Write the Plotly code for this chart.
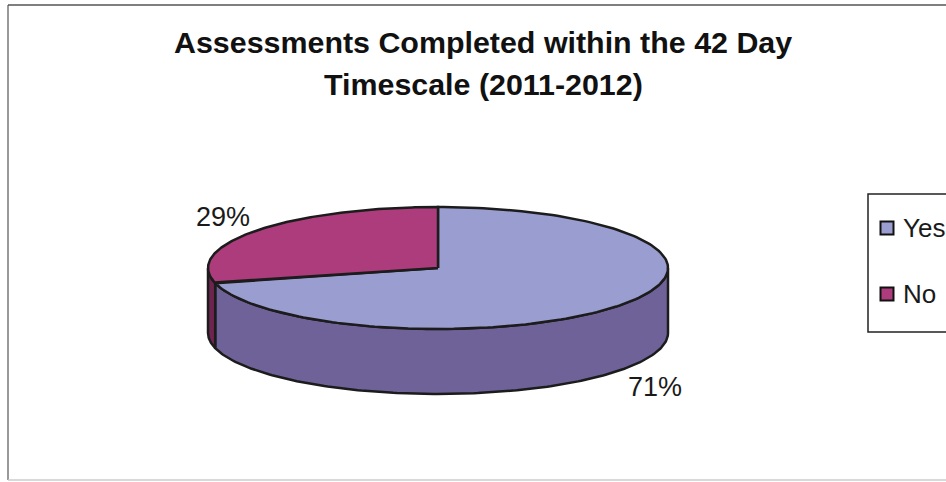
import numpy as np
import plotly.graph_objects as go

categories = ["Yes", "No"]
values = [71, 29]
title_lines = ["Assessments Completed within the 42 Day", "Timescale (2011-2012)"]
top_colors = ["#9A9DD0", "#AC3C7C"]
side_colors = ["#6F6299", "#6E2450"]

W, H = 946, 482
CX, CY, RX, RY, DEPTH = 438, 268, 230, 61, 65
LINE = "#1c1c1c"


def pt(deg):
    a = np.radians(deg)
    return CX + RX * np.sin(a), CY - RY * np.cos(a)


def arc(a0, a1):
    t = np.linspace(a0, a1, 181)
    return pt(t)


total = sum(values)
split = 360 * values[0] / total

fig = go.Figure()


def poly(x, y, color, name):
    fig.add_trace(go.Scatter(x=np.asarray(x), y=np.asarray(y), mode="lines", fill="toself",
                             fillcolor=color, line=dict(color=LINE, width=2.5),
                             showlegend=False, hoverinfo="skip", name=name))


# side wall of "Yes" (right point round to the split)
x, y = arc(90, split)
poly(np.r_[x, x[::-1], x[0]], np.r_[y, (y + DEPTH)[::-1], y[0]], side_colors[0], categories[0])
# side wall of "No" (split round to the left point)
x, y = arc(split, 270)
poly(np.r_[x, x[::-1], x[0]], np.r_[y, (y + DEPTH)[::-1], y[0]], side_colors[1], categories[1])
# top faces
x, y = arc(0, split)
poly(np.r_[CX, x, CX], np.r_[CY, y, CY], top_colors[0], categories[0])
x, y = arc(split, 360)
poly(np.r_[CX, x, CX], np.r_[CY, y, CY], top_colors[1], categories[1])

# legend key drawn inside the plot area, as the reference's is cut by the right edge
LEGEND_Y = [228, 294]
fig.add_trace(go.Scatter(x=[887, 887], y=LEGEND_Y, mode="markers",
                         marker=dict(symbol="square", size=13, color=top_colors,
                                     line=dict(color="#111111", width=2)),
                         showlegend=False, hoverinfo="skip", cliponaxis=False))

legend_labels = [
    dict(x=901, y=ly, xref="x", yref="y", showarrow=False, text=name, xanchor="left",
         font=dict(size=26, color="#1a1a1a"))
    for name, ly in zip(categories, LEGEND_Y)
]

fig.update_layout(
    width=W, height=H, margin=dict(l=0, r=0, t=0, b=0),
    paper_bgcolor="white", plot_bgcolor="white",
    font=dict(family="Liberation Sans", color="#1a1a1a"),
    xaxis=dict(range=[0, W], visible=False, fixedrange=True),
    yaxis=dict(range=[H, 0], visible=False, fixedrange=True),
    showlegend=False,
    annotations=[
        dict(x=483, y=42, xref="x", yref="y", showarrow=False,
             text=f"<b>{title_lines[0]}</b>",
             font=dict(size=30.4, color="#111111", family="Liberation Sans")),
        dict(x=483, y=84, xref="x", yref="y", showarrow=False,
             text=f"<b>{title_lines[1]}</b>",
             font=dict(size=30.4, color="#111111", family="Liberation Sans")),
        dict(x=223, y=217, xref="x", yref="y", showarrow=False, text=f"{values[1]}%",
             font=dict(size=27)),
        dict(x=655, y=387, xref="x", yref="y", showarrow=False, text=f"{values[0]}%",
             font=dict(size=27)),
    ] + legend_labels,
    shapes=[
        dict(type="line", xref="x", yref="y", x0=8, x1=8, y0=5, y1=480,
             line=dict(color="#777777", width=1.5)),
        dict(type="line", xref="x", yref="y", x0=8, x1=946, y0=5, y1=5,
             line=dict(color="#555555", width=1.5)),
        dict(type="line", xref="x", yref="y", x0=8, x1=946, y0=480, y1=480,
             line=dict(color="#cccccc", width=1.5)),
        dict(type="rect", xref="x", yref="y", x0=868, x1=948, y0=194, y1=332,
             line=dict(color="#222222", width=1.5)),
    ],
)
fig.write_html("out.html", config={"displayModeBar": False},
               post_script="document.body.style.margin='0';document.documentElement.style.overflow='hidden';")
